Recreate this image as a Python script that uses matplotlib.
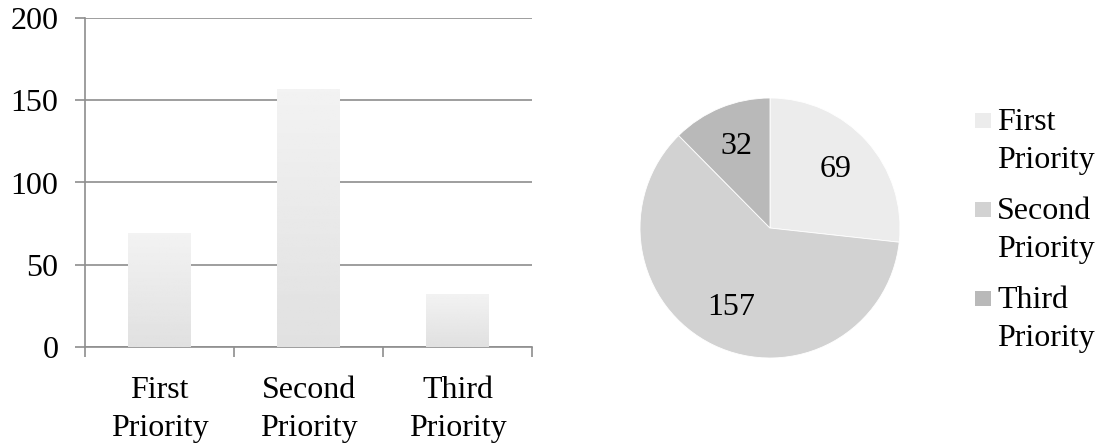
import matplotlib
matplotlib.use("Agg")
import matplotlib.pyplot as plt
import numpy as np
from matplotlib.patches import Rectangle

# data
categories = ["First\nPriority", "Second\nPriority", "Third\nPriority"]
counts = [69, 157, 32]
pie_colors = ["#ececec", "#d2d2d2", "#b9b9b9"]

plt.rcParams['font.family'] = ['Liberation Serif', 'DejaVu Serif']
grid_col = "#8e8e8e"
fs = 23
W, H = 1101, 445

fig = plt.figure(figsize=(W/100, H/100), dpi=100)

# bar chart
ax = fig.add_axes([85/W, 98/H, 447/W, 329/H])
x = np.arange(len(categories))
bars = ax.bar(x, counts, width=0.42, color="#ececec", zorder=2)
# soft vertical gradient on each bar
grad = np.linspace(0.95, 0.88, 100).reshape(-1, 1)
for b in bars:
    x0, y0 = b.get_x(), b.get_y()
    im = ax.imshow(grad, cmap="gray", vmin=0, vmax=1, aspect="auto",
                   extent=[x0, x0 + b.get_width(), y0, y0 + b.get_height()],
                   origin="upper", zorder=3)
    im.set_clip_path(b)
ax.set_xlim(-0.5, 2.5)
ax.set_ylim(0, 200)
ax.set_yticks([0, 50, 100, 150, 200])
ax.yaxis.grid(True, color=grid_col, linewidth=1.2, zorder=1)
ax.set_axisbelow(True)
ax.set_xticks(x)
ax.set_xticklabels(categories, fontsize=fs, linespacing=1.4)
ax.set_xticks([-0.5, 0.5, 1.5, 2.5], minor=True)
ax.tick_params(axis="x", which="major", length=0, pad=21)
ax.tick_params(axis="x", which="minor", length=7, width=1.2, color=grid_col)
ax.tick_params(axis="y", length=7, width=1.2, color=grid_col, labelsize=fs, pad=12)
for s in ["top", "right"]:
    ax.spines[s].set_visible(False)
for s in ["left", "bottom"]:
    ax.spines[s].set_color(grid_col)
    ax.spines[s].set_linewidth(1.2)

# pie chart
pax = fig.add_axes([(770 - 130)/W, (217 - 130)/H, 260/W, 260/H])
total = sum(counts)
wedges, texts, autotexts = pax.pie(
    counts, colors=pie_colors, startangle=90, counterclock=False,
    autopct=lambda p: f"{round(p * total / 100)}", pctdistance=0.68,
    wedgeprops=dict(edgecolor="white", linewidth=0.6),
    textprops=dict(fontsize=fs, color="black"))
pax.set_xlim(-1, 1)
pax.set_ylim(-1, 1)
pax.set_aspect("equal")

# legend drawn by hand: marker sits beside the first line of each label
leg_tops = [108, 197, 286]
for lab, col, top in zip(categories, pie_colors, leg_tops):
    fig.patches.append(Rectangle((975/W, 1 - (top + 20)/H), 16/W, 15/H,
                                 transform=fig.transFigure, facecolor=col,
                                 edgecolor="none"))
    fig.text(997/W, 1 - top/H, lab, fontsize=fs, va="top", ha="left",
             linespacing=1.4)

fig.savefig("out.png", dpi=100)
